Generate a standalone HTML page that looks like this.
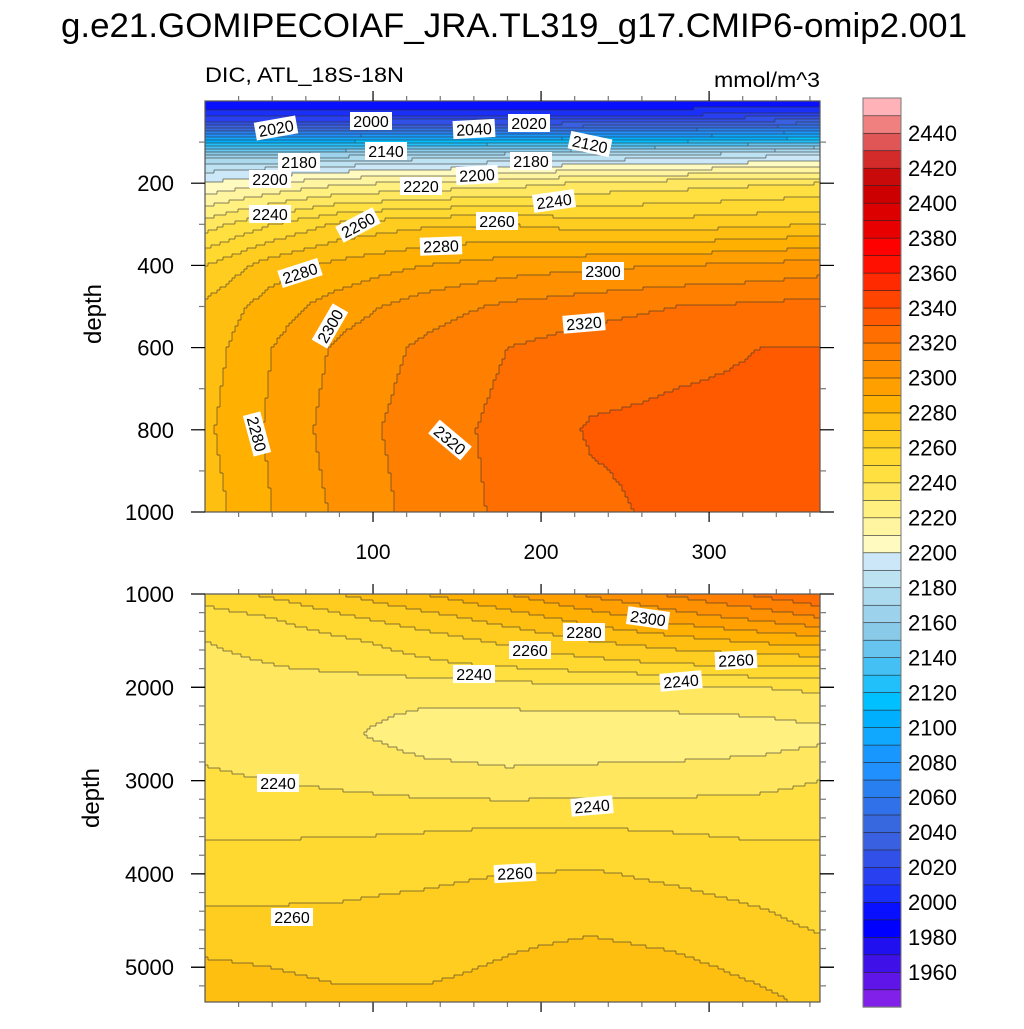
<!DOCTYPE html>
<html><head><meta charset="utf-8">
<style>
body{margin:0;background:#fff;font-family:"Liberation Sans",sans-serif}
svg text{font-family:"Liberation Sans",sans-serif}
</style></head>
<body>
<svg id="chart" width="1024" height="1024" viewBox="0 0 1024 1024" xmlns="http://www.w3.org/2000/svg">
<rect width="1024" height="1024" fill="#fff"/>
<text x="514" y="37" font-size="34" text-anchor="middle" textLength="906" lengthAdjust="spacingAndGlyphs">g.e21.GOMIPECOIAF_JRA.TL319_g17.CMIP6-omip2.001</text>
<text x="205" y="82" font-size="21" textLength="199" lengthAdjust="spacingAndGlyphs">DIC, ATL_18S-18N</text>
<text x="820" y="87" font-size="21" text-anchor="end" textLength="106" lengthAdjust="spacingAndGlyphs">mmol/m^3</text>
<g id="top"></g>
<g id="bot"></g>
<g id="cbar"></g>
<text transform="translate(101,314) rotate(-90)" font-size="24" text-anchor="middle">depth</text>
<text transform="translate(99,798) rotate(-90)" font-size="24" text-anchor="middle">depth</text>
</svg>
<script>
const xCols=[0,40,80,130,180,230,280,330,366];
const topDepths=[0,30,60,90,110,130,160,200,300,400,500,600,800,1000];
const topValues=[
[1990,1990,1990,1990,1990,1990,1990,1990,1990],
[2005,2005,2005,2005,2005,2005,2006,2008,2008],
[2030,2030,2030,2032,2034,2036,2040,2045,2048],
[2090,2090,2092,2094,2096,2098,2100,2105,2110],
[2130,2130,2133,2136,2140,2142,2145,2150,2155],
[2160,2162,2165,2170,2174,2178,2182,2186,2190],
[2185,2188,2192,2196,2200,2204,2206,2208,2210],
[2200,2210,2218,2222,2225,2232,2235,2238,2240],
[2235,2250,2262,2268,2270,2265,2265,2268,2270],
[2260,2275,2283,2290,2295,2298,2300,2302,2305],
[2272,2285,2295,2305,2312,2316,2320,2322,2324],
[2275,2290,2302,2312,2320,2325,2328,2330,2330],
[2278,2292,2305,2315,2323,2331,2332,2332,2332],
[2275,2290,2302,2314,2322,2328,2332,2334,2335]];
const botDepths=[1000,1250,1500,1750,2000,2500,3000,3500,4000,4500,5000,5370];
const botValues=[
[2255,2262,2270,2280,2290,2302,2312,2322,2330],
[2245,2250,2258,2266,2275,2285,2295,2303,2310],
[2240,2243,2248,2255,2262,2270,2276,2282,2285],
[2238,2240,2243,2248,2252,2256,2260,2262,2262],
[2236,2236,2234,2234,2236,2238,2238,2240,2242],
[2238,2236,2232,2225,2223,2223,2223,2224,2227],
[2241,2240,2238,2235,2233,2234,2235,2237,2240],
[2248,2248,2248,2249,2250,2250,2249,2248,2248],
[2256,2256,2257,2258,2260,2261,2258,2255,2255],
[2262,2262,2262,2264,2267,2268,2266,2262,2258],
[2272,2270,2268,2268,2271,2274,2272,2268,2265],
[2276,2274,2272,2272,2274,2276,2275,2272,2268]];
const cbLevels=[1950,2450,10];
const cbLabels=[1960,1980,2000,2020,2040,2060,2080,2100,2120,2140,2160,2180,2200,2220,2240,2260,2280,2300,2320,2340,2360,2380,2400,2420,2440];
const palette=["#8020e8","#6015e8","#4010e8","#2010f0","#0000ff","#0810ff","#1a30f8","#2840f0","#3050e8","#3860e0","#3868e0","#3070e8","#2880f0","#2090ff","#1898ff","#10a8ff","#00b0ff","#00c0ff","#22c0fa","#44c0f4","#66c4ee","#88cae8","#9dd2ec","#abdaee","#bde2f2","#cce8f8",
"#fffac0","#fff5a0","#fff080","#ffe860","#ffe040","#ffd830","#ffcc20","#ffbf10","#ffb000","#ffa000","#ff9000","#ff8000","#ff6e00","#ff5a00","#ff4400","#ff2a00","#ff1000","#ff0000","#e80000","#dd0000","#cc0000","#c80a0a","#d32a2a","#e05555","#f08080","#ffb3b8"];
const topLabels=[["2020",276,128,-10],["2000",371,121,0],["2040",474,129,-3],["2020",529,123,0],["2120",590,144,12],["2140",386,151,0],["2180",299,162,0],["2180",531,161,0],["2200",270,179,0],["2220",421,186,0],["2200",477,175,-3],["2240",554,201,-8],["2240",270,214,0],["2260",358,225,-28],["2260",497,221,0],["2280",441,246,-2],["2280",300,273,-18],["2300",603,271,0],["2320",584,323,-5],["2300",330,326,-60],["2280",257,434,75],["2320",450,440,40]];
const botLabels=[["2300",648,618,8],["2280",584,632,0],["2260",530,650,0],["2260",736,660,-3],["2240",474,674,0],["2240",681,681,-5],["2240",278,783,0],["2240",592,806,-5],["2260",515,873,-3],["2260",292,917,0]];

const NS="http://www.w3.org/2000/svg";
const PX0=205,PX1=820;
function xs(v){return PX0+v/366*(PX1-PX0);}
function topY(d){return 101+d*0.411;}
function botY(d){return 594+(d-1000)*0.0933;}
function interp(arr,v){let i=0;while(i<arr.length-2&&v>arr[i+1])i++;let t=(v-arr[i])/(arr[i+1]-arr[i]);return [i,Math.max(0,Math.min(1,t))];}
function field(depths,vals,x,d){const [j,tx]=interp(xCols,x);const [i,ty]=interp(depths,d);
 const a=vals[i][j],b=vals[i][j+1],c=vals[i+1][j],e=vals[i+1][j+1];
 return (a*(1-tx)+b*tx)*(1-ty)+(c*(1-tx)+e*tx)*ty;}
function band(v){let k=Math.floor((v-cbLevels[0])/cbLevels[2])+1;return Math.max(0,Math.min(palette.length-1,k));}
function el(tag,attrs,parent){const e=document.createElementNS(NS,tag);for(const k in attrs)e.setAttribute(k,attrs[k]);parent.appendChild(e);return e;}

function drawPanel(g,depths,vals,yTop,yBot,yFn,dTop,dBot,labels,name){
 const cs=3;const nx=Math.ceil((PX1-PX0)/cs),ny=Math.ceil((yBot-yTop)/cs);
 const grid=[];
 for(let r=0;r<ny;r++){const row=[];const py=yTop+(r+0.5)*cs;const d=dTop+(py-yTop)/(yBot-yTop)*(dBot-dTop);
  for(let c=0;c<nx;c++){const x=((c+0.5)*cs)/(PX1-PX0)*366;row.push(band(field(depths,vals,x,d)));}grid.push(row);}
 for(let r=0;r<ny;r++){let c=0;while(c<nx){let s=c;while(c<nx&&grid[r][c]===grid[r][s])c++;
  const rc=el('rect',{x:PX0+s*cs,y:yTop+r*cs,width:Math.min((c-s)*cs,PX1-PX0-s*cs)+0.5,height:Math.min(cs,yBot-yTop-r*cs)+0.5,fill:palette[grid[r][s]]},g);
  
  }}
 let p='';
 for(let r=0;r<ny;r++)for(let c=0;c<nx;c++){
  if(c<nx-1&&grid[r][c]!==grid[r][c+1]){const x=PX0+(c+1)*cs;p+=`M${x} ${yTop+r*cs}V${Math.min(yBot,yTop+(r+1)*cs)}`;}
  if(r<ny-1&&grid[r][c]!==grid[r+1][c]){const y=yTop+(r+1)*cs;p+=`M${PX0+c*cs} ${y}H${Math.min(PX1,PX0+(c+1)*cs)}`;}}
 const cl=el('path',{d:p,stroke:'#333',"stroke-width":0.7,fill:'none',"stroke-opacity":0.8},g);
 
 
 labels.forEach(l=>{const lg=el('g',{transform:`translate(${l[1]},${l[2]}) rotate(${l[3]})`},g);
  
  
  el('rect',{x:-21,y:-9,width:42,height:18,fill:'#fff'},lg);
  const t=el('text',{x:0,y:6,"font-size":16,"text-anchor":"middle"},lg);t.textContent=l[0];});
 const fr=el('rect',{x:PX0,y:yTop,width:PX1-PX0,height:yBot-yTop,fill:'none',stroke:'#555',"stroke-width":1.2},g);
 
 
}
const gt=document.getElementById('top'),gb=document.getElementById('bot');
drawPanel(gt,topDepths,topValues,101,512,topY,0,1000,topLabels,'upper');
drawPanel(gb,botDepths,botValues,594,1002,botY,1000,5370,botLabels,'lower');
// ticks (outward)
function tick(g,x1,y1,x2,y2,c){el('line',{x1,y1,x2,y2,stroke:c||'#000',"stroke-width":1.2},g);}
[100,200,300].forEach(v=>{const x=xs(v);[[101,512],[594,1002]].forEach(([a,b])=>{tick(gt,x,a,x,a-10);tick(gt,x,b,x,b+10);});});
[20,40,60,80,120,140,160,180,220,240,260,280,320,340,360].forEach(v=>{const x=xs(v);[[101,512],[594,1002]].forEach(([a,b])=>{tick(gt,x,a,x,a-5,'#777');tick(gt,x,b,x,b+5,'#777');});});
[100,200,300].forEach(v=>{const t=el('text',{x:xs(v),y:559,"font-size":21,"text-anchor":"middle"},gt);t.textContent=v;
 
 });
for(let d=100;d<=1000;d+=100){const y=topY(d);const m=d%200===0;tick(gt,PX0,y,PX0-(m?14:6),y,m?'#000':'#777');tick(gt,PX1,y,PX1+(m?14:6),y,m?'#000':'#777');
 if(m){const t=el('text',{x:174,y:y+8,"font-size":22,"text-anchor":"end"},gt);t.textContent=d;
 
 }}
for(let d=1200;d<=5200;d+=200){const y=botY(d);const m=d%1000===0;tick(gb,PX0,y,PX0-(m?14:6),y,m?'#000':'#777');tick(gb,PX1,y,PX1+(m?14:6),y,m?'#000':'#777');}
for(let d=1000;d<=5000;d+=1000){const y=botY(d);tick(gb,PX0,y,PX0-14,y);tick(gb,PX1,y,PX1+14,y);
 const t=el('text',{x:174,y:y+8,"font-size":22,"text-anchor":"end"},gb);t.textContent=d;
 
 }
// colorbar
const cb=document.getElementById('cbar');const CB0=98,CB1=1007,bh=(CB1-CB0)/palette.length;
palette.forEach((c,i)=>{const r=el('rect',{x:863,y:CB1-(i+1)*bh,width:38,height:bh+0.3,fill:c,stroke:'#222',"stroke-width":0.6},cb);
 
 });
el('rect',{x:863,y:CB0,width:38,height:CB1-CB0,fill:'none',stroke:'#777',"stroke-width":1},cb);
cbLabels.forEach(v=>{const y=CB1-((v-cbLevels[0])/cbLevels[2]+1)*bh;const t=el('text',{x:908,y:y+8,"font-size":22},cb);t.textContent=v;
 
 });
</script>
</body></html>
